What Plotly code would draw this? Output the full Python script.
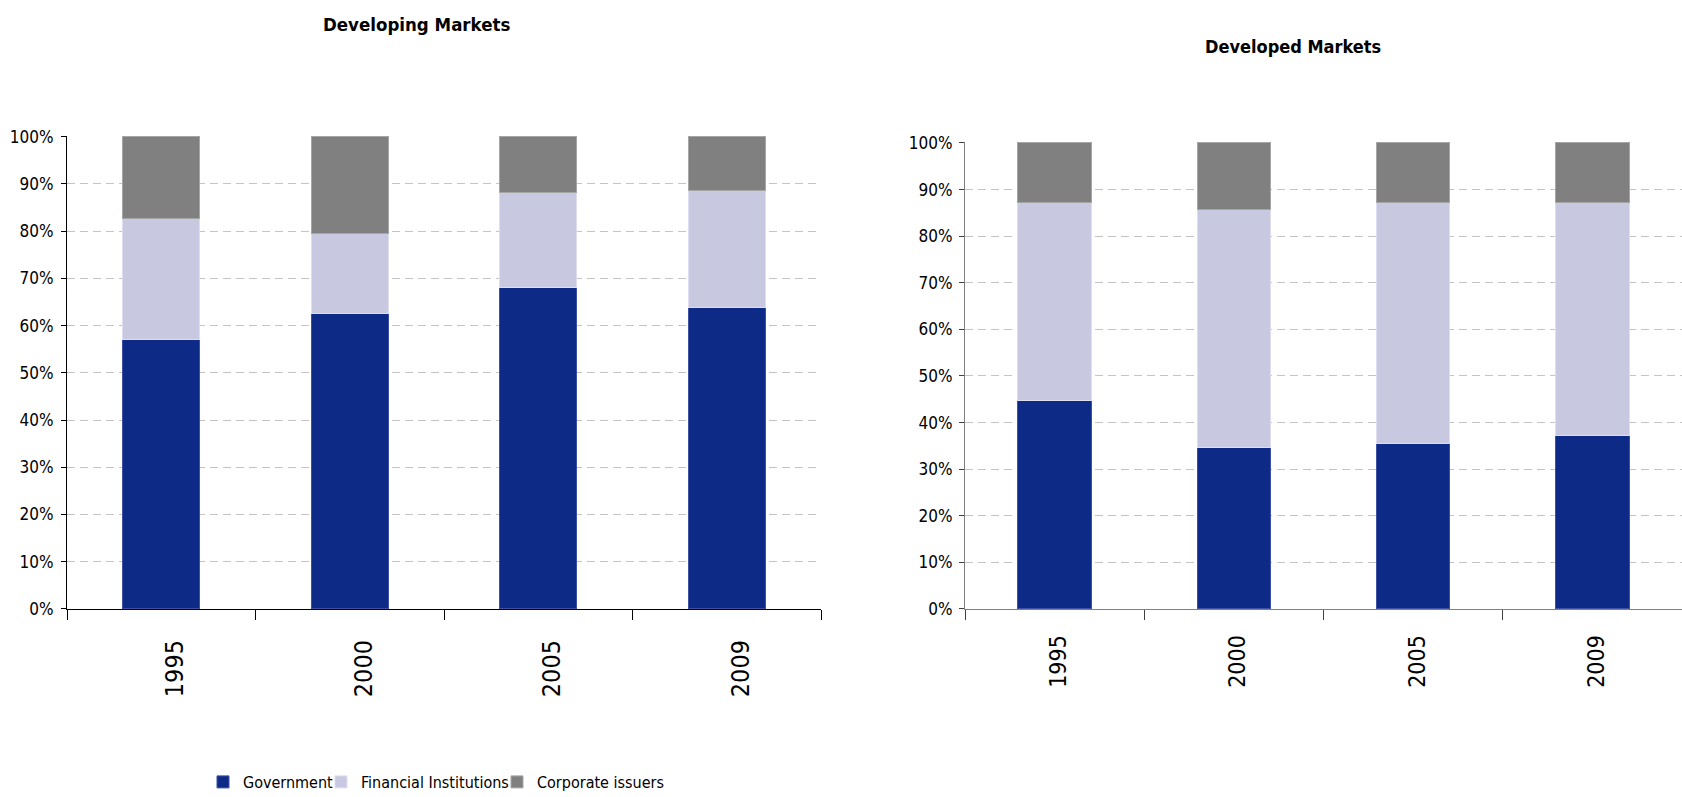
import plotly.graph_objects as go

# Issuer shares of outstanding debt, in percent of total
years = ["1995", "2000", "2005", "2009"]
series_names = ["Government", "Financial Institutions", "Corporate issuers"]

developing_gov = [57.0, 62.5, 68.1, 63.9]
developing_fin = [25.6, 17.0, 20.0, 24.7]
developing_corp = [17.4, 20.5, 11.9, 11.4]

developed_gov = [44.8, 34.7, 35.6, 37.3]
developed_fin = [42.5, 51.1, 51.7, 50.0]
developed_corp = [12.7, 14.2, 12.7, 12.7]

y_ticks = [0, 10, 20, 30, 40, 50, 60, 70, 80, 90, 100]
y_tick_labels = [f"{v}%" for v in y_ticks]

colors = ["#0e2a87", "#c9c8e1", "#808080"]
edge_colors = ["#3d50a3", "#dedef0", "#a6a6a6"]

W, H = 1682, 797
NARROW = "DejaVu Sans Condensed, DejaVu Sans, sans-serif"
Y_TOP = 100.2  # a hair above 100% so the top gridline is kept

# one legend per series so each key sits at its own spot along the bottom
legend_ids = ["legend", "legend2", "legend3"]
legend_left_px = [203, 321, 497]

fig = go.Figure()

panels = [
    ("x", "y", [developing_gov, developing_fin, developing_corp], True),
    ("x2", "y2", [developed_gov, developed_fin, developed_corp], False),
]
for xa, ya, values, show in panels:
    for name, vals, col, edge, lg in zip(series_names, values, colors,
                                         edge_colors, legend_ids):
        fig.add_trace(go.Bar(
            x=years, y=vals, name=name, xaxis=xa, yaxis=ya,
            marker=dict(color=col, line=dict(color=edge, width=1)),
            legendgroup=name, showlegend=show, legend=lg,
            hovertemplate="%{x}: %{y:.1f}%<extra>" + name + "</extra>",
        ))


def px_x(v):
    return v / W


def px_y(v):
    return (H - v) / H


def y_domain(bottom_px, top100_px):
    per_unit = (bottom_px - top100_px) / 100.0
    top_px = top100_px - (Y_TOP - 100) * per_unit
    return [px_y(bottom_px), px_y(top_px)]


common_y = dict(
    range=[0, Y_TOP], tickvals=y_ticks, ticktext=y_tick_labels,
    ticks="outside", ticklen=5, showline=True, linewidth=1,
    showgrid=True, gridcolor="#c4c4c4", gridwidth=1, griddash="8px,5px",
    zeroline=False, fixedrange=True, automargin=False,
    tickfont=dict(family=NARROW, size=17, color="#000000"),
)
common_x = dict(
    type="category", tickson="boundaries", ticks="outside", ticklen=10,
    showline=True, linewidth=1, showgrid=False, tickangle=-90,
    fixedrange=True, automargin=False,
)

legend_style = dict(
    orientation="h", xanchor="left", y=px_y(782), yanchor="middle",
    font=dict(family=NARROW, size=16, color="#000000"),
    itemwidth=30, bgcolor="rgba(0,0,0,0)",
)

fig.update_layout(
    width=W, height=H, autosize=False,
    margin=dict(l=0, r=0, t=0, b=0, autoexpand=False),
    paper_bgcolor="#ffffff", plot_bgcolor="#ffffff",
    barmode="stack",
    xaxis=dict(**common_x, domain=[px_x(67), px_x(821)], anchor="y",
               linecolor="#000000", tickcolor="#000000",
               tickfont=dict(family=NARROW, size=25, color="#000000"),
               ticklabelstandoff=20, ticklabelshift=14),
    yaxis=dict(**common_y, domain=y_domain(609, 136.7), anchor="x",
               linecolor="#000000", tickcolor="#000000",
               ticklabelstandoff=4),
    xaxis2=dict(**common_x, domain=[px_x(965), 1.0], anchor="y2",
                linecolor="#808080", tickcolor="#404040",
                tickfont=dict(family=NARROW, size=23, color="#000000"),
                ticklabelstandoff=16, ticklabelshift=4),
    yaxis2=dict(**common_y, domain=y_domain(609, 143), anchor="x2",
                linecolor="#808080", tickcolor="#404040",
                ticklabelstandoff=3),
    bargap=0.59,
    legend=dict(**legend_style, x=px_x(legend_left_px[0])),
    legend2=dict(**legend_style, x=px_x(legend_left_px[1])),
    legend3=dict(**legend_style, x=px_x(legend_left_px[2])),
    annotations=[
        dict(text="<b>Developing Markets</b>", xref="paper", yref="paper",
             x=px_x(416), y=px_y(24), xanchor="center", yanchor="middle",
             showarrow=False, font=dict(family=NARROW, size=18.5, color="#000000")),
        dict(text="<b>Developed Markets</b>", xref="paper", yref="paper",
             x=px_x(1293), y=px_y(47), xanchor="center", yanchor="middle",
             showarrow=False, font=dict(family=NARROW, size=18, color="#000000")),
    ],
)

fig.write_html("out.html")
